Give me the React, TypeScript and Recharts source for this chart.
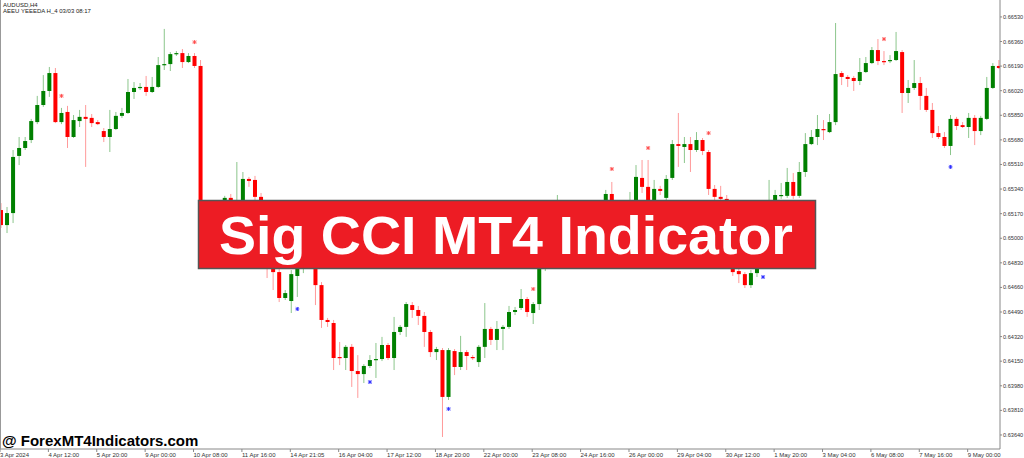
import React from 'react';
import { ComposedChart, Bar, Scatter, XAxis, YAxis } from 'recharts';

// AUDUSD H4, one entry per bar
const timeLabels = [
  '3 Apr 2024', '4 Apr 12:00', '5 Apr 20:00', '9 Apr 00:00', '10 Apr 08:00', '11 Apr 16:00',
  '14 Apr 21:05', '16 Apr 04:00', '17 Apr 12:00', '18 Apr 20:00', '22 Apr 00:00', '23 Apr 08:00',
  '24 Apr 16:00', '26 Apr 00:00', '29 Apr 04:00', '30 Apr 12:00', '1 May 20:00', '3 May 04:00',
  '6 May 08:00', '7 May 16:00', '9 May 00:00',
];

const priceTicks = [
  0.6653, 0.6636, 0.6619, 0.6602, 0.6585, 0.6568, 0.6551, 0.6534, 0.6517,
  0.65, 0.6483, 0.6466, 0.6449, 0.6432, 0.6415, 0.6398, 0.6381, 0.6364,
];

const open = [
  0.65195, 0.65091, 0.65174, 0.65569, 0.65624, 0.65679, 0.65803, 0.65921, 0.66018, 0.66142,
  0.65803, 0.65873, 0.657, 0.6581, 0.65839, 0.65832, 0.65803, 0.65741, 0.657, 0.65755,
  0.65846, 0.65866, 0.66011, 0.66039, 0.66046, 0.66011, 0.66046, 0.66197, 0.66204, 0.66273,
  0.6628, 0.66218, 0.6626, 0.66191, 0.65091, 0.65181, 0.65112, 0.65195, 0.65279, 0.65181,
  0.65243, 0.6541, 0.65403, 0.65286, 0.65126, 0.64836, 0.64766, 0.64587, 0.64566, 0.64739,
  0.6485, 0.64953, 0.64919, 0.64676, 0.64435, 0.64414, 0.64179, 0.64172, 0.64249, 0.64082,
  0.64061, 0.64117, 0.64158, 0.64165, 0.64262, 0.64172, 0.64352, 0.64387, 0.64538, 0.64504,
  0.64463, 0.64352, 0.64213, 0.64227, 0.63903, 0.6422, 0.6411, 0.64213, 0.64179, 0.64144,
  0.64249, 0.64373, 0.64297, 0.64373, 0.64387, 0.6449, 0.64518, 0.6458, 0.64483, 0.64545,
  0.64809, 0.64884, 0.64988, 0.65112, 0.65043, 0.6514, 0.65085, 0.65167, 0.65202, 0.65154,
  0.65223, 0.65306, 0.65181, 0.65126, 0.65209, 0.65243, 0.65417, 0.65355, 0.65236, 0.65341,
  0.65279, 0.65417, 0.65651, 0.65631, 0.65651, 0.6561, 0.65679, 0.65596, 0.65341, 0.65286,
  0.65272, 0.65022, 0.64773, 0.64752, 0.64676, 0.64759, 0.64836, 0.64933, 0.6516, 0.65293,
  0.65293, 0.65389, 0.65293, 0.65458, 0.65651, 0.657, 0.65755, 0.65734, 0.65803, 0.66142,
  0.66115, 0.66108, 0.66087, 0.66149, 0.66211, 0.66301, 0.66225, 0.66225, 0.66232, 0.66287,
  0.66004, 0.66039, 0.66073, 0.65984, 0.65887, 0.65727, 0.657, 0.65638, 0.65825, 0.65782,
  0.65769, 0.65832, 0.65741, 0.65825, 0.66039, 0.66191,
];

const high = [
  0.65243, 0.65216, 0.6561, 0.657, 0.657, 0.65825, 0.65984, 0.66128, 0.66184, 0.66177,
  0.65901, 0.65915, 0.65852, 0.65887, 0.65921, 0.65859, 0.65817, 0.65762, 0.65887, 0.65873,
  0.65901, 0.66101, 0.6608, 0.66073, 0.66122, 0.66115, 0.66253, 0.66447, 0.66287, 0.66294,
  0.66308, 0.6628, 0.6628, 0.66232, 0.65223, 0.65209, 0.65229, 0.65293, 0.65306, 0.65527,
  0.65458, 0.65424, 0.65431, 0.65313, 0.65154, 0.64884, 0.64794, 0.64642, 0.6478, 0.64905,
  0.65043, 0.65002, 0.6496, 0.64697, 0.64449, 0.64435, 0.64283, 0.64262, 0.64269, 0.64192,
  0.6413, 0.64192, 0.64276, 0.64318, 0.64276, 0.64456, 0.644, 0.64559, 0.64559, 0.64532,
  0.6449, 0.64366, 0.64249, 0.64241, 0.64241, 0.64234, 0.64325, 0.64227, 0.64192, 0.64262,
  0.64552, 0.64387, 0.64428, 0.644, 0.64532, 0.64525, 0.64649, 0.64594, 0.64559, 0.64836,
  0.64919, 0.65022, 0.65299, 0.6516, 0.65181, 0.65195, 0.65209, 0.65236, 0.65243, 0.65257,
  0.65334, 0.65389, 0.65229, 0.65243, 0.6532, 0.65506, 0.65541, 0.65541, 0.65403, 0.65362,
  0.65437, 0.65679, 0.65866, 0.657, 0.657, 0.65734, 0.65693, 0.6561, 0.65368, 0.65362,
  0.65299, 0.65057, 0.64794, 0.64766, 0.6478, 0.64884, 0.6496, 0.65403, 0.65334, 0.65382,
  0.65486, 0.65451, 0.65527, 0.65727, 0.65748, 0.65852, 0.65817, 0.65859, 0.66488, 0.66156,
  0.66128, 0.66122, 0.66246, 0.66253, 0.66322, 0.66377, 0.66294, 0.66266, 0.66426, 0.66301,
  0.66094, 0.66232, 0.66115, 0.66039, 0.65935, 0.65776, 0.65734, 0.65852, 0.65839, 0.65803,
  0.65866, 0.65852, 0.65846, 0.66115, 0.66211, 0.66232,
];

const low = [
  0.65071, 0.65036, 0.65105, 0.65506, 0.6561, 0.65658, 0.65789, 0.65908, 0.65977, 0.65796,
  0.65789, 0.65624, 0.65693, 0.65769, 0.65493, 0.65769, 0.65782, 0.65665, 0.65596, 0.65748,
  0.65832, 0.65859, 0.65963, 0.66025, 0.65984, 0.66004, 0.66039, 0.66163, 0.66156, 0.6626,
  0.66177, 0.66211, 0.66177, 0.65057, 0.65043, 0.65022, 0.65085, 0.65167, 0.65181, 0.6516,
  0.65154, 0.65355, 0.65264, 0.65085, 0.64725, 0.64642, 0.64559, 0.64573, 0.64483, 0.64594,
  0.64759, 0.64836, 0.64538, 0.6438, 0.64387, 0.64089, 0.64123, 0.64089, 0.63972, 0.63896,
  0.63999, 0.64103, 0.64034, 0.64151, 0.64158, 0.64089, 0.64331, 0.64318, 0.64449, 0.644,
  0.64249, 0.64179, 0.64158, 0.63626, 0.63882, 0.64054, 0.64089, 0.64089, 0.64158, 0.6411,
  0.64172, 0.64262, 0.64227, 0.64227, 0.64373, 0.64469, 0.64504, 0.64456, 0.64407, 0.64504,
  0.64773, 0.64864, 0.6496, 0.65002, 0.65016, 0.65057, 0.65071, 0.65126, 0.65112, 0.65133,
  0.65195, 0.65154, 0.65071, 0.65098, 0.65167, 0.65223, 0.65313, 0.65209, 0.65216, 0.65299,
  0.65257, 0.65403, 0.65493, 0.6552, 0.65458, 0.65596, 0.65575, 0.65299, 0.65264, 0.65229,
  0.64988, 0.64739, 0.6469, 0.64656, 0.64656, 0.64732, 0.64809, 0.64905, 0.6514, 0.65272,
  0.65279, 0.65272, 0.65279, 0.65424, 0.65644, 0.65644, 0.65679, 0.65727, 0.65782, 0.66059,
  0.66046, 0.66018, 0.66059, 0.66142, 0.66204, 0.66197, 0.66197, 0.66211, 0.66225, 0.65866,
  0.65935, 0.66025, 0.65887, 0.65873, 0.65693, 0.65686, 0.65624, 0.65575, 0.65748, 0.65762,
  0.65693, 0.65644, 0.65713, 0.65817, 0.66032, 0.6617,
];

const close = [
  0.65091, 0.65174, 0.65562, 0.65624, 0.65672, 0.6581, 0.65921, 0.66018, 0.66142, 0.65803,
  0.65866, 0.657, 0.65817, 0.65839, 0.65825, 0.65796, 0.65789, 0.657, 0.65755, 0.65846,
  0.65866, 0.66011, 0.66039, 0.66046, 0.66011, 0.66046, 0.66197, 0.66204, 0.66273, 0.6628,
  0.66218, 0.6626, 0.66191, 0.65091, 0.65181, 0.65112, 0.65195, 0.65279, 0.65209, 0.6525,
  0.6541, 0.65396, 0.65286, 0.65126, 0.64836, 0.64766, 0.64587, 0.64621, 0.64752, 0.6485,
  0.64953, 0.64919, 0.64676, 0.64435, 0.64421, 0.64172, 0.64172, 0.64249, 0.64082, 0.64061,
  0.64117, 0.64158, 0.64165, 0.64262, 0.64172, 0.64352, 0.64387, 0.64545, 0.64504, 0.64463,
  0.64352, 0.64213, 0.64234, 0.63903, 0.64227, 0.6411, 0.64213, 0.64186, 0.64172, 0.64249,
  0.64373, 0.64297, 0.64373, 0.64387, 0.6449, 0.64504, 0.6458, 0.6449, 0.64545, 0.64809,
  0.64884, 0.64988, 0.65112, 0.65043, 0.6514, 0.65085, 0.65167, 0.65202, 0.65154, 0.65223,
  0.65306, 0.65181, 0.65126, 0.65209, 0.65243, 0.65424, 0.65355, 0.65236, 0.65341, 0.65327,
  0.6541, 0.65651, 0.65638, 0.65651, 0.6561, 0.65679, 0.65603, 0.65341, 0.65286, 0.65272,
  0.65022, 0.64766, 0.64752, 0.64676, 0.64759, 0.64836, 0.64933, 0.6516, 0.65299, 0.65299,
  0.65389, 0.65293, 0.65458, 0.65651, 0.657, 0.65755, 0.65748, 0.65803, 0.66135, 0.66115,
  0.66101, 0.66087, 0.66149, 0.66211, 0.66301, 0.66225, 0.66218, 0.66232, 0.66294, 0.66004,
  0.66039, 0.66073, 0.65984, 0.65887, 0.65727, 0.657, 0.65638, 0.65825, 0.65776, 0.65769,
  0.65832, 0.65741, 0.65832, 0.66039, 0.66191, 0.66177,
];

// Sig CCI arrows
const sellBars = [10, 32, 88, 101, 107, 117, 146];
const sellLevels = [0.65984, 0.66356, 0.64649, 0.65479, 0.65624, 0.65727, 0.66377];
const buyBars = [49, 61, 74, 126, 157];
const buyLevels = [0.64511, 0.64006, 0.6382, 0.64732, 0.65493];

const data = open.map((o, i) => ({ i, open: o, high: high[i], low: low[i], close: close[i] }));
const sellData = sellBars.map((b, k) => ({ i: b, v: sellLevels[k] }));
const buyData = buyBars.map((b, k) => ({ i: b, v: buyLevels[k] }));
const labelBars = timeLabels.map((_, k) => k * 8);

const FONT = '"Liberation Sans", Arial, sans-serif';

const Candle = (props: any) => {
  const { x, y, width, height, payload } = props;
  if (!payload || x == null) return null;
  const top = Math.min(y, y + height);
  const h = Math.abs(height);
  const { open: o, close: c, high: hi, low: lo } = payload;
  const py = (v: number) => (hi === lo ? top : top + ((hi - v) / (hi - lo)) * h);
  const cx = x + width / 2;
  const up = c >= o;
  const bTop = py(Math.max(o, c));
  const bBot = py(Math.min(o, c));
  return (
    <g>
      <line x1={cx} x2={cx} y1={top} y2={top + h} stroke={up ? '#8cc68c' : '#ff9a9a'} strokeWidth={1} />
      <rect x={cx - 2} y={bTop} width={4} height={Math.max(1.2, bBot - bTop)} fill={up ? '#008000' : '#ff0000'} />
    </g>
  );
};

const Star = (props: any) => {
  const { cx, cy, color } = props;
  if (cx == null) return null;
  return (
    <g stroke={color} strokeWidth={0.9}>
      <line x1={cx - 2} y1={cy} x2={cx + 2} y2={cy} />
      <line x1={cx} y1={cy - 2} x2={cx} y2={cy + 2} />
      <line x1={cx - 1.6} y1={cy - 1.6} x2={cx + 1.6} y2={cy + 1.6} />
      <line x1={cx - 1.6} y1={cy + 1.6} x2={cx + 1.6} y2={cy - 1.6} />
    </g>
  );
};

const XTick = (props: any) => {
  const { x, y, payload } = props;
  const label = timeLabels[Math.round(payload.value / 8)];
  return (
    <g>
      <line x1={x - 1} x2={x - 1} y1={y} y2={y + 3} stroke="#888" />
      <text x={x - 1} y={y + 8} fontSize={6} fill="#333" fontFamily={FONT} textAnchor="start">
        {label}
      </text>
    </g>
  );
};

const YTick = (props: any) => {
  const { x, y, payload } = props;
  return (
    <g>
      <line x1={x} x2={x + 2} y1={y} y2={y} stroke="#888" />
      <text x={x + 3} y={y + 2} fontSize={5.6} fill="#333" fontFamily={FONT} textAnchor="start">
        {Number(payload.value).toFixed(5)}
      </text>
    </g>
  );
};

export default function App() {
  return (
    <div style={{ position: 'absolute', left: 0, top: 0, width: 1024, height: 458, background: '#fff', overflow: 'hidden' }}>
      <ComposedChart width={1024} height={458} data={data} margin={{ top: 0, right: 0, bottom: 0, left: 0 }}>
        <XAxis
          type="number"
          dataKey="i"
          domain={[-0.165, 165.18]}
          ticks={labelBars}
          interval={0}
          allowDataOverflow
          height={9}
          tickSize={0}
          tickMargin={0}
          tickLine={false}
          axisLine={{ stroke: '#888' }}
          tick={<XTick />}
        />
        <YAxis
          orientation="right"
          width={24}
          domain={[0.63543, 0.66647]}
          ticks={priceTicks}
          interval={0}
          allowDataOverflow
          tickSize={0}
          tickMargin={0}
          tickLine={false}
          axisLine={{ stroke: '#888' }}
          tick={<YTick />}
        />
        <Bar dataKey={(d: any) => [d.low, d.high]} barSize={4} shape={<Candle />} isAnimationActive={false} />
        <Scatter data={sellData} dataKey="v" shape={<Star color="#ff4a4a" />} isAnimationActive={false} />
        <Scatter data={buyData} dataKey="v" shape={<Star color="#2a2aff" />} isAnimationActive={false} />
      </ComposedChart>
      <svg width={1024} height={458} style={{ position: 'absolute', left: 0, top: 0, pointerEvents: 'none' }}>
        <line x1={0.5} x2={0.5} y1={0} y2={449} stroke="#999" />
        <text x={3} y={7} fontSize={6} fill="#222" fontFamily={FONT}>AUDUSD,H4</text>
        <text x={3} y={13} fontSize={6} fill="#222" fontFamily={FONT}>AEEU YEEEDA H_4 03/03 08:17</text>
        <rect x={198.5} y={200.5} width={617} height={68} fill="#ed1c24" stroke="#555" strokeWidth={1.5} />
        <text
          x={219}
          y={253.5}
          fontSize={54}
          fontWeight="bold"
          fill="#fff"
          fontFamily={FONT}
          textLength={574}
          lengthAdjust="spacingAndGlyphs"
        >
          Sig CCI MT4 Indicator
        </text>
        <text x={2} y={446} fontSize={15} fontWeight="bold" fill="#000" fontFamily={FONT}>
          @ ForexMT4Indicators.com
        </text>
      </svg>
    </div>
  );
}
